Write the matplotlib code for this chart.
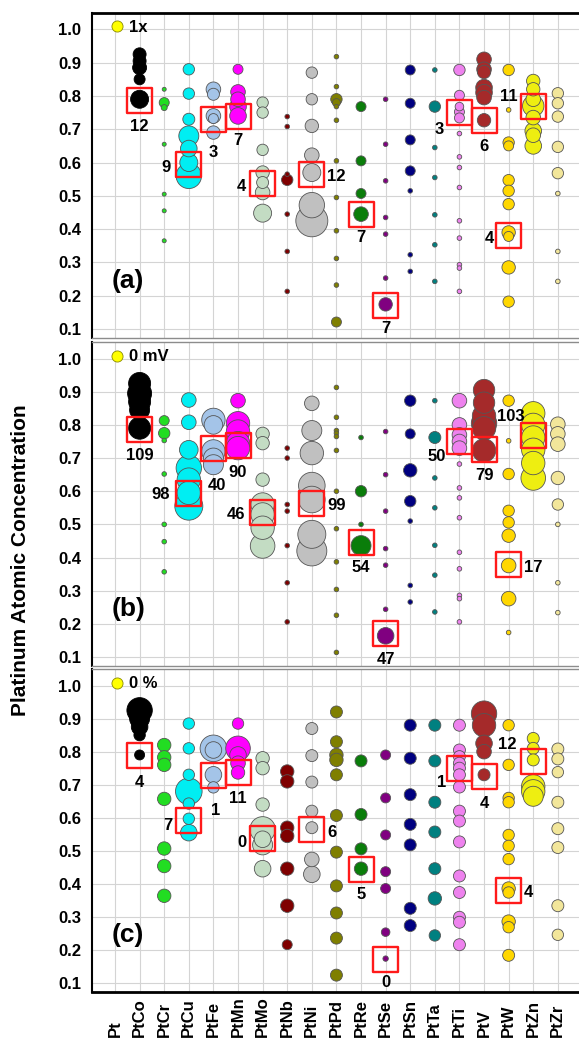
import matplotlib
matplotlib.use('Agg')
import matplotlib.pyplot as plt
import matplotlib.transforms as mtransforms
from matplotlib.lines import Line2D

plt.rcParams['font.family'] = ['Liberation Sans', 'DejaVu Sans']
plt.rcParams['font.weight'] = 'bold'

# --- categories and colours ---
categories = ['Pt', 'PtCo', 'PtCr', 'PtCu', 'PtFe', 'PtMn', 'PtMo', 'PtNb', 'PtNi', 'PtPd',
              'PtRe', 'PtSe', 'PtSn', 'PtTa', 'PtTi', 'PtV', 'PtW', 'PtZn', 'PtZr']
colors = {
    'PtCo': '#000000', 'PtCr': '#22dd22', 'PtCu': '#00eef2', 'PtFe': '#a4c4e8',
    'PtMn': '#ff00ff', 'PtMo': '#c3dcc3', 'PtNb': '#7f0000', 'PtNi': '#c0c0c0',
    'PtPd': '#7f7f00', 'PtRe': '#0a7d0a', 'PtSe': '#800080', 'PtSn': '#000080',
    'PtTa': '#008080', 'PtTi': '#ee82ee', 'PtV': '#a52a2a', 'PtW': '#ffd700',
    'PtZn': '#eeee11', 'PtZr': '#f2e69a',
}

# --- panel (a): 1x ---
conc_a = {
    'PtCo': [0.925, 0.905, 0.885, 0.85, 0.79],
    'PtCr': [0.82, 0.78, 0.765, 0.655, 0.505, 0.455, 0.365],
    'PtCu': [0.88, 0.807, 0.73, 0.68, 0.642, 0.60, 0.56],
    'PtFe': [0.82, 0.805, 0.74, 0.732, 0.69],
    'PtMn': [0.88, 0.812, 0.79, 0.768, 0.74],
    'PtMo': [0.78, 0.75, 0.638, 0.57, 0.54, 0.51, 0.448],
    'PtNb': [0.738, 0.708, 0.565, 0.548, 0.445, 0.333, 0.213],
    'PtNi': [0.87, 0.79, 0.71, 0.622, 0.57, 0.472, 0.425],
    'PtPd': [0.918, 0.828, 0.79, 0.78, 0.768, 0.727, 0.605, 0.495, 0.395, 0.312, 0.232, 0.121],
    'PtRe': [0.768, 0.605, 0.507, 0.445],
    'PtSe': [0.79, 0.655, 0.545, 0.435, 0.385, 0.253, 0.174],
    'PtSn': [0.878, 0.778, 0.668, 0.575, 0.515, 0.323, 0.273],
    'PtTa': [0.878, 0.768, 0.645, 0.555, 0.443, 0.353, 0.243],
    'PtTi': [0.878, 0.802, 0.768, 0.752, 0.734, 0.687, 0.617, 0.585, 0.525, 0.425, 0.373, 0.293, 0.283, 0.213],
    'PtV': [0.91, 0.88, 0.872, 0.825, 0.81, 0.795, 0.727],
    'PtW': [0.878, 0.758, 0.66, 0.65, 0.547, 0.515, 0.475, 0.39, 0.378, 0.285, 0.182],
    'PtZn': [0.845, 0.82, 0.79, 0.77, 0.735, 0.695, 0.682, 0.65],
    'PtZr': [0.808, 0.778, 0.738, 0.647, 0.568, 0.507, 0.333, 0.243],
}
size_a = {
    'PtCo': [6.5, 6.5, 7, 5.5, 9],
    'PtCr': [2, 5, 3, 2, 2, 2, 2],
    'PtCu': [5.7, 5.7, 6, 10, 8.3, 9, 12.7],
    'PtFe': [7.3, 6, 7.3, 5, 6.7],
    'PtMn': [5, 7.3, 7.3, 8.3, 8.3],
    'PtMo': [5.7, 5.7, 5.7, 6.7, 6, 7.3, 9],
    'PtNb': [2.3, 2.3, 2.3, 5.7, 2.3, 2.3, 2.3],
    'PtNi': [5.7, 5.7, 6.7, 7.3, 9, 12.7, 16],
    'PtPd': [2.3, 2.3, 5.7, 4, 2.3, 2.3, 2.3, 2.3, 2.3, 2.3, 2.3, 5],
    'PtRe': [5, 5, 5, 7.3],
    'PtSe': [2.3, 2.3, 2.3, 2.3, 2.3, 2.3, 6.7],
    'PtSn': [5, 5, 5, 5, 2.3, 2.3, 2.3],
    'PtTa': [2.3, 5.7, 2.3, 2.3, 2.3, 2.3, 2.3],
    'PtTi': [5.7, 5, 4.3, 5, 5, 2.3, 2.3, 2.3, 2.3, 2.3, 2.3, 2.3, 2.3, 2.3],
    'PtV': [7.3, 7.3, 6.7, 8.3, 8.3, 7.3, 6.7],
    'PtW': [5.7, 2.3, 5.7, 5, 5.7, 5.7, 5.7, 6.7, 5, 6.7, 5.7],
    'PtZn': [6.7, 6.7, 7.3, 10.7, 7.3, 8.3, 7.3, 8.3],
    'PtZr': [5.7, 5.7, 5.7, 5.7, 5.7, 2.3, 2.3, 2.3],
}

# --- panel (b): 0 mV ---
conc_b = {
    'PtCo': [0.925, 0.895, 0.87, 0.845, 0.79],
    'PtCr': [0.813, 0.775, 0.753, 0.652, 0.5, 0.448, 0.357],
    'PtCu': [0.875, 0.808, 0.725, 0.67, 0.635, 0.595, 0.555],
    'PtFe': [0.815, 0.8, 0.72, 0.7, 0.68],
    'PtMn': [0.873, 0.805, 0.78, 0.745, 0.73],
    'PtMo': [0.773, 0.745, 0.635, 0.56, 0.53, 0.49, 0.435],
    'PtNb': [0.73, 0.7, 0.56, 0.54, 0.436, 0.324, 0.206],
    'PtNi': [0.865, 0.783, 0.715, 0.617, 0.575, 0.47, 0.42],
    'PtPd': [0.913, 0.823, 0.783, 0.775, 0.765, 0.723, 0.6, 0.487, 0.387, 0.304, 0.226, 0.114],
    'PtRe': [0.762, 0.6, 0.5, 0.436],
    'PtSe': [0.78, 0.65, 0.54, 0.427, 0.377, 0.244, 0.164],
    'PtSn': [0.873, 0.773, 0.663, 0.57, 0.51, 0.316, 0.266],
    'PtTa': [0.873, 0.762, 0.64, 0.55, 0.437, 0.347, 0.236],
    'PtTi': [0.873, 0.8, 0.77, 0.75, 0.73, 0.682, 0.61, 0.58, 0.52, 0.416, 0.366, 0.286, 0.276, 0.206],
    'PtV': [0.905, 0.867, 0.827, 0.805, 0.79, 0.723],
    'PtW': [0.873, 0.752, 0.652, 0.541, 0.506, 0.466, 0.376, 0.276, 0.174],
    'PtZn': [0.835, 0.8, 0.762, 0.725, 0.685, 0.64],
    'PtZr': [0.802, 0.773, 0.742, 0.64, 0.56, 0.5, 0.324, 0.234],
}
size_b = {
    'PtCo': [11, 12, 11, 10, 11],
    'PtCr': [5, 5.7, 2.3, 2.3, 2.3, 2.3, 2.3],
    'PtCu': [7.3, 7.3, 9.3, 12.7, 11.7, 11.7, 14],
    'PtFe': [11.7, 9.3, 11.7, 10, 10],
    'PtMn': [7.3, 11.7, 11.7, 11.7, 11.7],
    'PtMo': [6.7, 6.7, 6.7, 11.7, 11.7, 11.7, 12.3],
    'PtNb': [2.3, 2.3, 2.3, 2.3, 2.3, 2.3, 2.3],
    'PtNi': [7.3, 10, 11.7, 13.3, 13.3, 14, 15],
    'PtPd': [2.3, 2.3, 2.3, 2.3, 2.3, 2.3, 2.3, 2.3, 2.3, 2.3, 2.3, 2.3],
    'PtRe': [2.3, 5.7, 2.3, 10],
    'PtSe': [2.3, 2.3, 2.3, 2.3, 2.3, 2.3, 8.3],
    'PtSn': [5.7, 5, 6.7, 5.7, 2.3, 2.3, 2.3],
    'PtTa': [2.3, 6, 2.3, 2.3, 2.3, 2.3, 2.3],
    'PtTi': [7.3, 7.3, 7.3, 7.3, 7.3, 2.3, 2.3, 2.3, 2.3, 2.3, 2.3, 2.3, 2.3, 2.3],
    'PtV': [10.7, 10.7, 11.7, 12.7, 11.7, 11.7],
    'PtW': [5.7, 2.3, 5.7, 5.7, 5.7, 6.7, 7.3, 7.3, 2.3],
    'PtZn': [11.7, 11.7, 11.7, 11.7, 11.7, 12.3],
    'PtZr': [7.3, 7.3, 7.3, 6.7, 5.7, 2.3, 2.3, 2.3],
}

# --- panel (c): 0 % ---
conc_c = {
    'PtCo': [0.925, 0.9, 0.875, 0.85, 0.79],
    'PtCr': [0.82, 0.783, 0.76, 0.657, 0.507, 0.454, 0.364],
    'PtCu': [0.885, 0.81, 0.73, 0.68, 0.643, 0.597, 0.555],
    'PtFe': [0.81, 0.805, 0.73, 0.692],
    'PtMn': [0.885, 0.81, 0.79, 0.765, 0.737],
    'PtMo': [0.78, 0.75, 0.64, 0.565, 0.535, 0.518, 0.446],
    'PtNb': [0.74, 0.71, 0.57, 0.545, 0.446, 0.334, 0.216],
    'PtNi': [0.87, 0.788, 0.708, 0.62, 0.57, 0.474, 0.429],
    'PtPd': [0.92, 0.83, 0.79, 0.775, 0.73, 0.607, 0.496, 0.394, 0.312, 0.236, 0.124],
    'PtRe': [0.772, 0.61, 0.506, 0.446],
    'PtSe': [0.79, 0.66, 0.548, 0.437, 0.386, 0.254, 0.174],
    'PtSn': [0.88, 0.78, 0.67, 0.58, 0.518, 0.326, 0.274],
    'PtTa': [0.88, 0.772, 0.647, 0.557, 0.446, 0.356, 0.244],
    'PtTi': [0.88, 0.805, 0.785, 0.765, 0.75, 0.73, 0.693, 0.62, 0.59, 0.527, 0.424, 0.374, 0.299, 0.284, 0.216],
    'PtV': [0.915, 0.88, 0.825, 0.8, 0.73],
    'PtW': [0.88, 0.76, 0.66, 0.647, 0.548, 0.515, 0.475, 0.386, 0.374, 0.286, 0.269, 0.184],
    'PtZn': [0.84, 0.81, 0.775, 0.695, 0.68, 0.665],
    'PtZr': [0.808, 0.778, 0.738, 0.647, 0.567, 0.51, 0.334, 0.246],
}
size_c = {
    'PtCo': [12.7, 10, 8.3, 5.7, 5],
    'PtCr': [6.7, 6.7, 6.7, 6.7, 6.7, 6.7, 6.7],
    'PtCu': [5.7, 5.7, 5.7, 13.3, 5.7, 5.7, 8.3],
    'PtFe': [13.3, 8.3, 8.3, 5.7],
    'PtMn': [5.7, 12.3, 8.3, 7.3, 6.7],
    'PtMo': [6.7, 6.7, 6.7, 12.7, 8.3, 10, 8.3],
    'PtNb': [6.7, 6.7, 6.7, 6.7, 6.7, 6.7, 5],
    'PtNi': [6, 6, 6, 6, 6, 7.3, 8.3],
    'PtPd': [6, 6, 6.7, 6.7, 6, 6, 6, 6, 6, 6, 6],
    'PtRe': [6, 6, 6, 6.7],
    'PtSe': [5, 5, 5, 5, 5, 4.3, 2.7],
    'PtSn': [6, 6, 6, 6, 6, 6, 6],
    'PtTa': [6, 6, 6, 6, 6, 6.7, 5.7],
    'PtTi': [6, 6, 6, 6, 6, 6, 6, 6, 6, 6, 6, 6, 6, 6, 6],
    'PtV': [12.7, 11.7, 8.3, 7.3, 6],
    'PtW': [5.7, 5.7, 5.7, 5.7, 5.7, 5.7, 5.7, 6.7, 5.7, 6.7, 5.7, 6],
    'PtZn': [6, 6, 6, 11.7, 11.7, 10],
    'PtZr': [6, 6, 5.7, 6, 6, 6, 6, 5.7],
}

# --- highlighted compositions (red boxes) and their counts ---
box_cats = ['PtCo', 'PtCu', 'PtFe', 'PtMn', 'PtMo', 'PtNi', 'PtRe', 'PtSe', 'PtTi', 'PtV', 'PtW', 'PtZn']
box_conc = [0.787, 0.593, 0.729, 0.737, 0.536, 0.564, 0.444, 0.171, 0.75, 0.726, 0.38, 0.769]
count_a = [12, 9, 3, 7, 4, 12, 7, 7, 3, 6, 4, 11]
count_b = [109, 98, 40, 90, 46, 99, 54, 47, 50, 79, 17, 103]
count_c = [4, 7, 1, 11, 0, 6, 5, 0, 1, 4, 4, 12]

legend_labels = ['1x', '0 mV', '0 %']
panel_tags = ['(a)', '(b)', '(c)']
y_ticks = [0.1, 0.2, 0.3, 0.4, 0.5, 0.6, 0.7, 0.8, 0.9, 1.0]

# label offsets for the counts, in pixels (layout only)
offsets = [
    {'PtCo': (0, -26), 'PtCu': (-23, -3), 'PtFe': (0, -33), 'PtMn': (0, -24), 'PtMo': (-21, -3),
     'PtNi': (24, -2), 'PtRe': (0, -23), 'PtSe': (0, -23), 'PtTi': (-20, -17), 'PtV': (0, -26),
     'PtW': (-19, -3), 'PtZn': (-24, 10)},
    {'PtCo': (0, -26), 'PtCu': (-28, -1), 'PtFe': (4, -37), 'PtMn': (0, -27), 'PtMo': (-27, -2),
     'PtNi': (25, -2), 'PtRe': (0, -25), 'PtSe': (0, -26), 'PtTi': (-23, -15), 'PtV': (0, -26),
     'PtW': (25, -3), 'PtZn': (-22, 19)},
    {'PtCo': (0, -27), 'PtCu': (-21, -5), 'PtFe': (2, -35), 'PtMn': (0, -26), 'PtMo': (-21, -4),
     'PtNi': (20, -3), 'PtRe': (0, -25), 'PtSe': (0, -23), 'PtTi': (-18, -14), 'PtV': (0, -27),
     'PtW': (20, -2), 'PtZn': (-26, 17)},
]

panels = [(conc_a, size_a, count_a), (conc_b, size_b, count_b), (conc_c, size_c, count_c)]

# axes rectangles in pixels: left, top, bottom
W, H = 579, 1041
rects = [(92, 12.7, 338), (92, 342, 666), (92, 669, 992)]

fig = plt.figure(figsize=(W / 100, H / 100), dpi=100)
xpos = {c: i for i, c in enumerate(categories)}

for p, (conc, size, counts) in enumerate(panels):
    left, top, bottom = rects[p]
    ax = fig.add_axes([left / W, 1 - bottom / H, 1 - left / W, (bottom - top) / H])
    ax.set_xlim(-0.935, 18.86)
    ax.set_ylim(0.073, 1.05)
    ax.set_xticks(range(len(categories)))
    ax.set_xticklabels([])
    ax.set_yticks(y_ticks)
    ax.set_yticklabels([f'{t:.1f}' for t in y_ticks], fontsize=12, fontweight='bold')
    ax.tick_params(length=0, pad=8)
    ax.grid(True, color='#d4d4d4', lw=0.8)
    ax.set_axisbelow(True)

    ax.spines['right'].set_visible(False)
    ax.spines['left'].set_linewidth(1.5)
    for side in ('top', 'bottom'):
        ax.spines[side].set_color('#8c8c8c')
        ax.spines[side].set_linewidth(1.0)
    if p == 0:
        ax.spines['top'].set_color('black')
        ax.spines['top'].set_linewidth(2)
    if p == 2:
        ax.spines['bottom'].set_color('black')
        ax.spines['bottom'].set_linewidth(2)

    for cat, vals in conc.items():
        radii = size[cat]
        order = sorted(range(len(vals)), key=lambda k: -radii[k])
        ys = [vals[k] for k in order]
        ss = [(1.44 * radii[k]) ** 2 for k in order]
        edge = 'black' if cat == 'PtCo' else '#555555'
        ax.scatter([xpos[cat]] * len(ys), ys, s=ss, c=colors[cat],
                   edgecolors=edge, linewidths=0.6, zorder=3)

    ax.scatter([xpos[c] for c in box_cats], box_conc, marker='s', s=324,
               facecolors='none', edgecolors='#ff1a1a', linewidths=1.7, zorder=5)
    for cat, val, n in zip(box_cats, box_conc, counts):
        ax.annotate(str(n), (xpos[cat], val), xytext=offsets[p][cat], textcoords='offset pixels',
                    ha='center', va='center', fontsize=12, fontweight='bold', zorder=6)

    handle = Line2D([0], [0], marker='o', ls='', mfc='#ffff00', mec='#8a8a00', mew=0.6, ms=8)
    ax.legend([handle], [legend_labels[p]], loc='upper left', bbox_to_anchor=(0.022, 1.0),
              frameon=False, handlelength=0.8, handletextpad=0.3, borderaxespad=0.25,
              borderpad=0.2, prop={'weight': 'bold', 'size': 12})

    ax.text(0.04, 0.175, panel_tags[p], transform=ax.transAxes, fontsize=19,
            fontweight='bold', va='center', ha='left')

    if p == 2:
        trans = mtransforms.blended_transform_factory(ax.transData, fig.transFigure)
        for i, c in enumerate(categories):
            ax.text(i, 1 - 1037 / H, c, transform=trans, rotation=90, ha='center',
                    va='bottom', fontsize=12, fontweight='bold', clip_on=False)

fig.text(0.036, 1 - 560 / H, 'Platinum Atomic Concentration', rotation=90, ha='center',
         va='center', fontsize=15, fontweight='bold')

fig.savefig('out.png', dpi=100)
